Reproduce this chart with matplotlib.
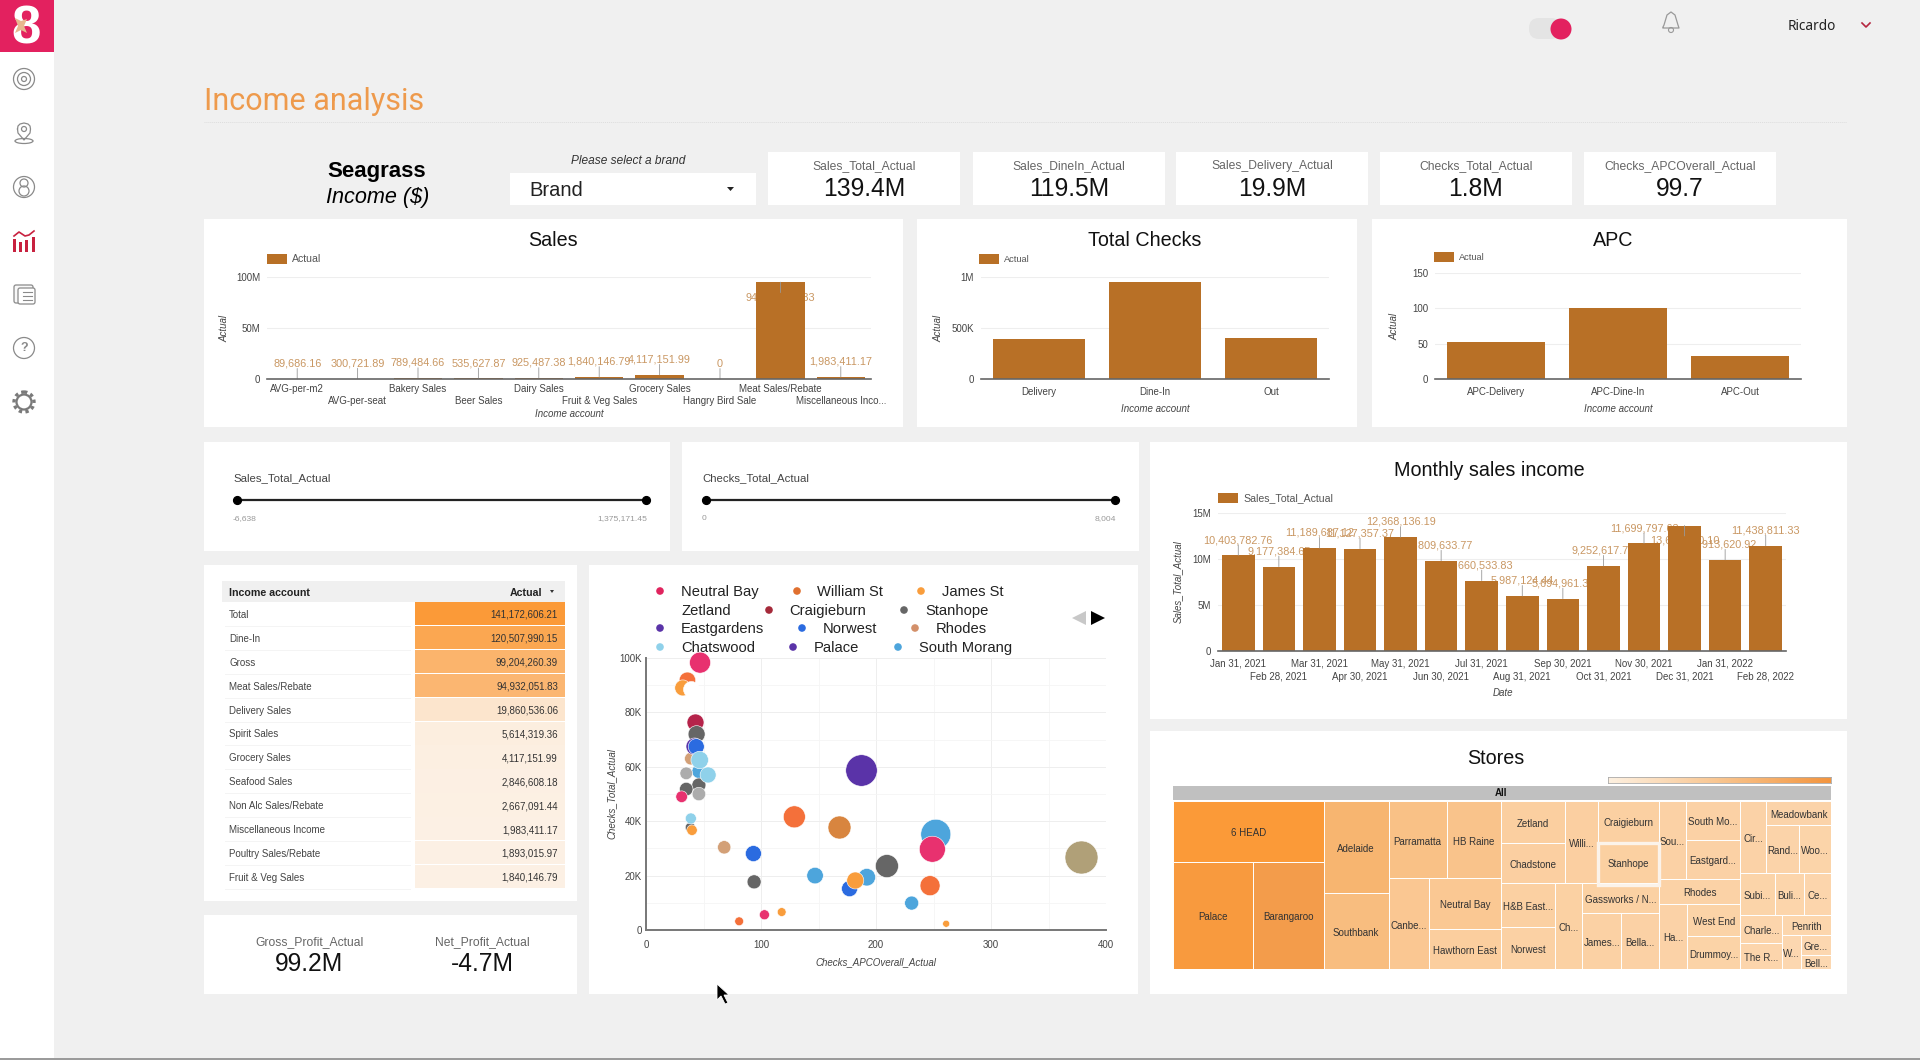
import matplotlib
matplotlib.use("Agg")
import matplotlib.pyplot as plt
from matplotlib.colors import LinearSegmentedColormap
from matplotlib.patches import Circle, Ellipse, FancyBboxPatch, Polygon, Rectangle

plt.rcParams["font.family"] = ["Liberation Sans", "DejaVu Sans"]

# ------- data

kpi_names = ["Sales_Total_Actual", "Sales_DineIn_Actual", "Sales_Delivery_Actual",
             "Checks_Total_Actual", "Checks_APCOverall_Actual"]
kpi_values = ["139.4M", "119.5M", "19.9M", "1.8M", "99.7"]

sales_accounts = ["AVG-per-m2", "AVG-per-seat", "Bakery Sales", "Beer Sales", "Dairy Sales",
                  "Fruit & Veg Sales", "Grocery Sales", "Hangry Bird Sale", "Meat Sales/Rebate",
                  "Miscellaneous Inco..."]
sales_values = [89686.16, 300721.89, 789484.66, 535627.87, 925487.38,
                1840146.79, 4117151.99, 0, 94932051.83, 1983411.17]

checks_accounts = ["Delivery", "Dine-In", "Out"]
checks_values = [390000, 955000, 400000]

apc_accounts = ["APC-Delivery", "APC-Dine-In", "APC-Out"]
apc_values = [52, 101, 33]

months = ["Jan 31, 2021", "Feb 28, 2021", "Mar 31, 2021", "Apr 30, 2021", "May 31, 2021",
          "Jun 30, 2021", "Jul 31, 2021", "Aug 31, 2021", "Sep 30, 2021", "Oct 31, 2021",
          "Nov 30, 2021", "Dec 31, 2021", "Jan 31, 2022", "Feb 28, 2022"]
monthly_values = [10403782.76, 9177384.65, 11189687.12, 11127357.37, 12368136.19,
                  9809633.77, 7660533.83, 5987124.44, 5694961.33, 9252617.72,
                  11699797.63, 13640000.10, 9913620.92, 11438811.33]

table_accounts = ["Total", "Dine-In", "Gross", "Meat Sales/Rebate", "Delivery Sales", "Spirit Sales",
                  "Grocery Sales", "Seafood Sales", "Non Alc Sales/Rebate", "Miscellaneous Income",
                  "Poultry Sales/Rebate", "Fruit & Veg Sales"]
table_values = [141172606.21, 120507990.15, 99204260.39, 94932051.83, 19860536.06, 5614319.36,
                4117151.99, 2846608.18, 2667091.44, 1983411.17, 1893015.97, 1840146.79]

# scatter: apc, checks (thousands), bubble metric
neutral_x = [47, 31, 249, 103]
neutral_y = [98.3, 49, 29.7, 5.6]
neutral_z = [441, 135, 676, 100]
william_x = [36, 129, 247, 81]
william_y = [91.8, 41.6, 16.3, 3.2]
william_z = [272, 484, 400, 77]
james_x = [32, 182, 40, 118, 261]
james_y = [89, 18.2, 36.7, 6.6, 2.3]
james_z = [256, 289, 110, 77, 49]
zetland_x = [39]
zetland_y = [88.6]
zetland_z = [256]
craigieburn_x = [43]
craigieburn_y = [76.4]
craigieburn_z = [289]
stanhope_x = [44, 46, 35, 209.5, 94, 38.5]
stanhope_y = [72, 53.3, 51.8, 23.5, 17.7, 37.7]
stanhope_z = [289, 196, 182, 529, 196, 100]
eastgardens_x = [41.5]
eastgardens_y = [67.6]
eastgardens_z = [289]
norwest_x = [43.7, 93.4, 177]
norwest_y = [67.4, 28.1, 15.2]
norwest_z = [256, 256, 256]
rhodes_x = [39, 68]
rhodes_y = [63, 30.4]
rhodes_z = [159, 177]
brown_x = [168]
brown_y = [37.8]
brown_z = [529]
chatswood_x = [46.7, 54, 39]
chatswood_y = [62.5, 57, 41]
chatswood_z = [306, 256, 121]
palace_x = [187]
palace_y = [58.7]
palace_z = [992]
morang_x = [46, 252, 147, 192, 231]
morang_y = [58.3, 35.2, 20, 19.4, 9.9]
morang_z = [196, 900, 272, 306, 196]
silver_x = [35, 46]
silver_y = [57.6, 50]
silver_z = [159, 182]
khaki_x = [378.6]
khaki_y = [27]
khaki_z = [1089]

store_names = ["6 HEAD", "Palace", "Barangaroo", "Adelaide", "Southbank", "Parramatta", "HB Raine",
               "Canbe...", "Neutral Bay", "Hawthorn East", "Zetland", "Chadstone", "Willi...",
               "Craigieburn", "Stanhope", "H&B East...", "Norwest", "Ch...", "Gassworks / N...",
               "James...", "Bella...", "Sou...", "South Mo...", "Eastgard...", "Rhodes", "Ha...",
               "West End", "Drummoy...", "Cir...", "Meadowbank", "Rand...", "Woo...", "Subi...",
               "Buli...", "Ce...", "Charle...", "The R...", "Penrith", "W...", "Gre...", "Bell..."]
store_values = [61698, 58140, 51357, 40020, 33205, 30160, 28072, 24843, 24320, 19360, 18125, 17690,
                17784, 16836, 17250, 16226, 15250, 15738, 15480, 14616, 14280, 14100, 14274, 14396,
                13468, 12348, 11662, 11662, 12470, 10440, 10582, 10153, 9933, 8385, 7869, 7802,
                7332, 6322, 4326, 4087, 2814]
# how the treemap nests the stores; directions alternate from level to level
store_tree = [
    [0, [1, 2]],
    [3, 4],
    [[5, 6], [7, [8, 9]]],
    [[[10, 11], 12, [13, 14]], [[15, 16], 17, [18, [19, 20]]]],
    [[21, [22, 23]], 24, [25, [26, 27]]],
    [[28, [29, [30, 31]]], [32, 33, 34], [[35, 36], [37, [38, [39, 40]]]]],
]

# ------- colours

BAR = "#b87026"
LABEL = "#c99762"
GREY = "#555555"
ORANGE = "#fb9a38"
PINK = "#e3215f"

table_cmap = LinearSegmentedColormap.from_list("table", ["#fcf1e6", ORANGE])
store_cmap = LinearSegmentedColormap.from_list(
    "stores", [(0, "#fcd9b4"), (0.3, "#fbcfa0"), (0.65, "#f7b570"), (0.85, "#f39a48"), (1, ORANGE)])

# ------- page

W, H = 1920, 1060
fig = plt.figure(figsize=(W / 100, H / 100), dpi=100, facecolor="#f0f0f0")

page = fig.add_axes([0, 0, 1, 1])
page.set_xlim(0, W)
page.set_ylim(H, 0)
page.axis("off")


def px_axes(x0, y0, x1, y1):
    # axes from page pixels, y down
    ax = fig.add_axes([x0 / W, 1 - y1 / H, (x1 - x0) / W, (y1 - y0) / H])
    ax.patch.set_visible(False)
    return ax


def card(x0, y0, x1, y1, color="white"):
    page.add_patch(Rectangle((x0, y0), x1 - x0, y1 - y0, facecolor=color, edgecolor="none"))


def txt(x, y, s, size=7, color="#333333", ha="center", **kw):
    page.text(x, y + 1, s, fontsize=size, color=color, ha=ha, va="center", **kw)


# sidebar
card(0, 0, 54, 1060)
card(0, 0, 54, 52, PINK)
txt(26, 29, "8", size=38, color="white", fontweight="bold")
page.add_patch(Polygon([(15, 18), (21, 21), (27, 19), (24, 26), (27, 33), (21, 30), (15, 33), (18, 26)],
                       facecolor="#e8b78f", edgecolor="none", zorder=5))

icon = "#8a8a8a"
for r in [10.5, 6.5, 2.5]:
    page.add_patch(Circle((24, 79), r, fill=False, edgecolor=icon, lw=0.9))
# pin
page.add_patch(Circle((24, 129), 2.5, fill=False, edgecolor=icon, lw=0.9))
page.plot([17.5, 18, 20, 24, 28, 30, 30.5, 30, 24, 18, 17.5],
          [129, 126, 124, 123, 124, 126, 129, 133, 140, 133, 129], color=icon, lw=0.9)
page.add_patch(Ellipse((24, 141), 18, 5, fill=False, edgecolor=icon, lw=0.9))
page.add_patch(Circle((24, 187), 10.5, fill=False, edgecolor=icon, lw=0.9))
page.add_patch(Circle((24, 183), 4, fill=False, edgecolor=icon, lw=0.9))
page.add_patch(Circle((24, 191), 5, fill=False, edgecolor=icon, lw=0.9))
for bx, bh in zip([14, 20, 26, 33], [13, 10, 12, 15]):
    page.add_patch(Rectangle((bx - 1.2, 252 - bh), 2.8, bh, facecolor="#c8213f", edgecolor="none"))
page.plot([14, 19, 25, 29, 34], [236, 232, 236, 235, 231], color="#c8213f", lw=1.2)
page.add_patch(FancyBboxPatch((15, 286), 17, 16, boxstyle="round,pad=1,rounding_size=2",
                              facecolor="#f8f8f8", edgecolor=icon, lw=0.9))
page.add_patch(FancyBboxPatch((19, 289), 15, 14, boxstyle="round,pad=1,rounding_size=2",
                              facecolor="white", edgecolor=icon, lw=0.9))
for ly in [292, 296, 300]:
    page.plot([23, 32], [ly, ly], color=icon, lw=0.8)
page.add_patch(Circle((24, 348), 10.5, fill=False, edgecolor=icon, lw=0.9))
txt(24, 347, "?", size=9, color=icon, fontweight="bold")
page.add_patch(Circle((24, 402), 7.5, facecolor="white", edgecolor="#7a7a7a", lw=1.6))
page.add_patch(Circle((24, 402), 10, fill=False, edgecolor="#7a7a7a", lw=2.4, ls=(0, (1, 1))))
page.plot([0, W], [1059, 1059], color="#999999", lw=1.4)

# top bar
page.add_patch(FancyBboxPatch((1529, 18), 32, 21, boxstyle="round,pad=0,rounding_size=10",
                              facecolor="#e4e4e4", edgecolor="none", mutation_aspect=1))
page.add_patch(Circle((1561, 29), 10.5, facecolor=PINK, edgecolor="none"))
page.plot([1663, 1664, 1667, 1671, 1675, 1678, 1679, 1663],
          [27, 25, 15, 12, 15, 25, 28, 28], color="#999999", lw=0.9)
page.add_patch(Circle((1671, 30), 2.5, fill=False, edgecolor="#999999", lw=0.8))
txt(1788, 25, "Ricardo", size=9.8, color="#222222", ha="left", family="Noto Sans")
page.plot([1862, 1866, 1870], [23, 27, 23], color="#b5263f", lw=1.2)

# header
txt(204, 100, "Income analysis", size=22, color="#ee9a4c", ha="left", family="Roboto")
page.plot([204, 1847], [122, 122], color="#dddddd", lw=0.7, ls=(0, (1, 1)))
txt(377, 171, "Seagrass", size=16, color="black", fontweight="bold")
txt(378, 197, "Income ($)", size=15.6, color="black", fontstyle="italic")

txt(628, 160, "Please select a brand", size=8.6, color="#333333", fontstyle="italic")
card(510, 173, 756, 205)
txt(529, 189, "Brand", size=14.5, color="#222222", ha="left")
page.add_patch(Polygon([(727, 187), (734, 187), (730.5, 191)], facecolor="#222222", edgecolor="none"))

kpi_left = [768, 973, 1176, 1380, 1584]
for left, name, value in zip(kpi_left, kpi_names, kpi_values):
    card(left, 152, left + 192, 205)
    txt(left + 96, 165, name, size=8.7, color="#666666")
    txt(left + 96, 188, value, size=17.7, color="#111111")

# cards
card(204, 219, 903, 427)
card(917, 219, 1357, 427)
card(1372, 219, 1847, 427)
card(204, 442, 670, 551)
card(682, 442, 1139, 551)
card(1150, 442, 1847, 719)
card(204, 565, 577, 901)
card(589, 565, 1138, 994)
card(204, 915, 577, 994)
card(1150, 731, 1847, 994)

txt(553, 239, "Sales", size=14.2, color="#111111")
txt(1145, 239, "Total Checks", size=14.2, color="#111111")
txt(1613, 239, "APC", size=14.2, color="#111111")
txt(1489, 469, "Monthly sales income", size=14.2, color="#111111")
txt(1496, 757, "Stores", size=14.2, color="#111111")


def legend_swatch(x, y, name, size):
    page.add_patch(Rectangle((x, y), 20, 10, facecolor=BAR, edgecolor="none"))
    txt(x + 25, y + 4, name, size=size, color=GREY, ha="left")


def bar_chart(box, names, values, ymax, yticks, yticklabels, labelled=False, pads=(5.5, 5.5), label_size=7.8):
    ax = px_axes(*box)
    xs = list(range(len(names)))
    ax.bar(xs, values, width=0.8, color=BAR, zorder=2)
    ax.set_xlim(-0.5, len(names) - 0.5)
    ax.set_ylim(0, ymax)
    ax.set_xticks(xs)
    ax.set_xticklabels(names, fontsize=7, color="#444444")
    ax.set_yticks(yticks)
    ax.set_yticklabels(yticklabels, fontsize=7, color="#444444")
    ax.tick_params(length=0, axis="both")
    ax.tick_params(axis="y", pad=5)
    ax.grid(axis="y", color="#eeeeee", lw=0.8, zorder=0)
    ax.set_axisbelow(True)
    for side in ["top", "right", "left"]:
        ax.spines[side].set_visible(False)
    ax.spines["bottom"].set_color("#666666")
    ax.spines["bottom"].set_linewidth(1.2)
    ax.spines["bottom"].set_zorder(4)
    # two rows of tick labels when the names are long
    for i, tick in enumerate(ax.xaxis.get_major_ticks()):
        tick.set_pad(pads[i % 2])
    if labelled:
        for x, v in zip(xs, values):
            # labels that would not fit above the bar fall back inside it, behind the bar
            sign = -1 if v / ymax > 0.88 else 1
            ax.annotate(f"{v:,.2f}" if v else "0", xy=(x, v),
                        xytext=(0, sign * 11), textcoords="offset points", ha="center", va="center",
                        fontsize=label_size, color=LABEL, zorder=1, annotation_clip=False)
            ax.annotate("", xy=(x, v), xytext=(0, sign * 7.5), textcoords="offset points", zorder=3,
                        arrowprops=dict(arrowstyle="-", color="#999999", lw=0.6, shrinkA=0, shrinkB=0))
    return ax


# Sales
bar_chart((267, 277, 871, 379), sales_accounts, sales_values, 100e6, [0, 50e6, 100e6],
          ["0", "50M", "100M"], labelled=True, pads=(3.3, 12.5))
legend_swatch(267, 254, "Actual", 7.6)
txt(224, 328, "Actual", size=7, color="#444444", rotation=90, fontstyle="italic")
txt(569, 413, "Income account", size=7, color="#444444", fontstyle="italic")

# Total checks
bar_chart((981, 277, 1329, 379), checks_accounts, checks_values, 1e6, [0, 500e3, 1e6], ["0", "500K", "1M"])
legend_swatch(979, 254, "Actual", 6.7)
txt(938, 328, "Actual", size=7, color="#444444", rotation=90, fontstyle="italic")
txt(1155, 408, "Income account", size=7, color="#444444", fontstyle="italic")

# APC
bar_chart((1435, 273, 1801, 379), apc_accounts, apc_values, 150, [0, 50, 100, 150], ["0", "50", "100", "150"])
legend_swatch(1434, 252, "Actual", 6.7)
txt(1394, 326, "Actual", size=7, color="#444444", rotation=90, fontstyle="italic")
txt(1618, 408, "Income account", size=7, color="#444444", fontstyle="italic")

# Monthly
bar_chart((1218, 513, 1786, 651), months, monthly_values, 15e6, [0, 5e6, 10e6, 15e6],
          ["0", "5M", "10M", "15M"], labelled=True, pads=(5.5, 14.8))
legend_swatch(1218, 493, "Sales_Total_Actual", 7.6)
txt(1178, 581, "Sales_Total_Actual", size=7, color="#444444", rotation=90, fontstyle="italic")
txt(1503, 692, "Date", size=7, color="#444444", fontstyle="italic")

# sliders
for tx, x0, x1, name, lo, hi in [(233, 237, 646, "Sales_Total_Actual", "-6,638", "1,375,171.45"),
                                 (702, 706, 1115, "Checks_Total_Actual", "0", "8,004")]:
    txt(tx, 477, name, size=8.2, color="#444444", ha="left")
    page.plot([x0, x1], [500, 500], color="#222222", lw=1.6, marker="o", ms=5.6, mfc="black", mec="black")
    txt(tx, 518, lo, size=6.1, color="#999999", ha="left")
    txt(x1 + 1, 518, hi, size=6.1, color="#999999", ha="right")

# table
card(222, 581, 565, 602, "#f0f0f0")
txt(229, 591.5, "Income account", size=7.7, color="#222222", ha="left", fontweight="bold")
txt(542, 591.5, "Actual", size=7.7, color="#222222", ha="right", fontweight="bold")
page.add_patch(Polygon([(550, 590), (554, 590), (552, 593)], facecolor="#333333", edgecolor="none"))
row_h = 23.9
vmax = max(table_values)
for i, (name, value) in enumerate(zip(table_accounts, table_values)):
    row_top = 602 + i * row_h
    card(415, row_top, 565, row_top + row_h - 0.6, table_cmap(value / vmax))
    page.plot([225, 410], [row_top + row_h, row_top + row_h], color="#f2f2f2", lw=0.6)
    txt(229, row_top + row_h / 2, name, size=7, color="#444444", ha="left")
    txt(558, row_top + row_h / 2, f"{value:,.2f}", size=7, color="#333333", ha="right")

# profit card
txt(309, 941, "Gross_Profit_Actual", size=8.7, color="#666666")
txt(309, 963, "99.2M", size=17.7, color="#111111")
txt(482, 941, "Net_Profit_Actual", size=8.7, color="#666666")
txt(482, 963, "-4.7M", size=17.7, color="#111111")

# scatter
sc = px_axes(646, 658, 1106, 930)
sc.set_xlim(0, 400)
sc.set_ylim(0, 100)
scatter_series = [
    (khaki_x, khaki_y, khaki_z, "#b0a078"),
    (palace_x, palace_y, palace_z, "#5a33a8"),
    (morang_x, morang_y, morang_z, "#4da5dc"),
    (rhodes_x, rhodes_y, rhodes_z, "#d3a077"),
    (brown_x, brown_y, brown_z, "#d8853f"),
    (craigieburn_x, craigieburn_y, craigieburn_z, "#b5234a"),
    (stanhope_x, stanhope_y, stanhope_z, "#666666"),
    (silver_x, silver_y, silver_z, "#acacac"),
    (eastgardens_x, eastgardens_y, eastgardens_z, "#5a33a8"),
    (norwest_x, norwest_y, norwest_z, "#2b6be0"),
    (chatswood_x, chatswood_y, chatswood_z, "#8fd1ea"),
    (william_x, william_y, william_z, "#f4703a"),
    (james_x, james_y, james_z, "#f99d3c"),
    (zetland_x, zetland_y, zetland_z, "white"),
    (neutral_x, neutral_y, neutral_z, "#e8316f"),
]
for xs_, ys_, zs_, col in scatter_series:
    sc.scatter(xs_, ys_, s=[z * 0.5184 for z in zs_], color=col, edgecolor="white", linewidth=0.4,
               zorder=3, clip_on=False)
sc.set_xticks([0, 100, 200, 300, 400])
sc.set_xticks([50, 150, 250, 350], minor=True)
sc.set_yticks([0, 20, 40, 60, 80, 100])
sc.set_yticks([10, 30, 50, 70, 90], minor=True)
sc.set_yticklabels(["0", "20K", "40K", "60K", "80K", "100K"], fontsize=7, color="#444444")
sc.set_xticklabels(["0", "100", "200", "300", "400"], fontsize=7, color="#444444")
sc.tick_params(which="both", length=0)
sc.tick_params(axis="x", pad=7)
sc.tick_params(axis="y", pad=3)
sc.grid(which="major", color="#eeeeee", lw=0.7)
sc.grid(which="minor", color="#f5f5f5", lw=0.6)
sc.set_axisbelow(True)
for side in ["top", "right"]:
    sc.spines[side].set_visible(False)
for side in ["left", "bottom"]:
    sc.spines[side].set_color("#777777")
    sc.spines[side].set_linewidth(1.4)
txt(876, 961, "Checks_APCOverall_Actual", size=7, color="#444444", fontstyle="italic")
txt(612, 793, "Checks_Total_Actual", size=7, color="#444444", rotation=90, fontstyle="italic")

# (name, marker colour, marker x, text x, y); Zetland's entry is white in the reference
legend_rows = [
    ("Neutral Bay", "#e0245e", 660, 681, 591), ("William St", "#e0702f", 797, 817, 591), ("James St", "#f99d3c", 921, 942, 591),
    ("Zetland", "white", 660, 681, 610), ("Craigieburn", "#a52a3a", 769, 789, 610), ("Stanhope", "#666666", 904, 925, 610),
    ("Eastgardens", "#5a33a8", 660, 681, 628), ("Norwest", "#2b6be0", 802, 823, 628), ("Rhodes", "#d3906a", 915, 936, 628),
    ("Chatswood", "#8fd1ea", 660, 681, 647), ("Palace", "#5a33a8", 793, 814, 647), ("South Morang", "#4da5dc", 898, 919, 647),
]
for name, col, mx, tx, ly in legend_rows:
    page.add_patch(Circle((mx, ly), 3.8, facecolor=col, edgecolor="none"))
    txt(tx, ly, name, size=10.6, color="#222222", ha="left")
page.add_patch(Polygon([(1072, 618), (1086, 611), (1086, 625)], facecolor="#c8c8c8", edgecolor="none"))
page.add_patch(Polygon([(1091, 611), (1105, 618), (1091, 625)], facecolor="black", edgecolor="none"))

# treemap
tm = px_axes(1172.5, 801, 1831, 969)
tm.set_xlim(0, 1)
tm.set_ylim(1, 0)
tm.axis("off")
page.add_patch(Rectangle((1172.5, 786), 658.5, 14, facecolor="#c0c0c0", edgecolor="none"))
txt(1501, 792, "All", size=7, color="#111111", fontweight="bold")
tree_max = max(store_values)


def tree_sum(node):
    if isinstance(node, int):
        return store_values[node]
    return sum(tree_sum(n) for n in node)


def draw_tree(node, x, y, w, h, horizontal=True):
    if isinstance(node, int):
        tm.add_patch(Rectangle((x, y), w, h, facecolor=store_cmap(store_values[node] / tree_max),
                               edgecolor="white", lw=0.7))
        tm.annotate(store_names[node], xy=(x + w / 2, y + h / 2), xytext=(0, -1.4), textcoords="offset points",
                    fontsize=7, color="#333333", ha="center", va="center")
        return
    total = tree_sum(node)
    pos = 0
    for child in node:
        frac = tree_sum(child) / total
        if horizontal:
            draw_tree(child, x + pos * w, y, frac * w, h, False)
        else:
            draw_tree(child, x, y + pos * h, w, frac * h, True)
        pos += frac


draw_tree(store_tree, 0, 0, 1, 1)

# colour scale above the treemap
grad = px_axes(1608, 777, 1831, 783)
grad.imshow([[i / 99 for i in range(100)]], aspect="auto",
            cmap=LinearSegmentedColormap.from_list("scale", ["#fdf0e0", "#f9c58f", "#f3953f"]))
grad.set_xticks([])
grad.set_yticks([])
for s in grad.spines.values():
    s.set_color("#aaaaaa")
    s.set_linewidth(0.6)

# overlay: hovered treemap cell and the mouse pointer
top = fig.add_axes([0, 0, 1, 1], zorder=20)
top.set_xlim(0, W)
top.set_ylim(H, 0)
top.axis("off")
top.add_patch(Rectangle((1597.5, 843), 61.5, 42, fill=False, edgecolor="#fbf3ea", lw=2.4))
top.add_patch(Polygon([(717, 984), (717, 1000), (721, 996), (725, 1004), (728, 1003), (724, 995), (729, 995)],
                      facecolor="black", edgecolor="white", lw=0.6))

fig.savefig("out.png", dpi=100, facecolor=fig.get_facecolor())
